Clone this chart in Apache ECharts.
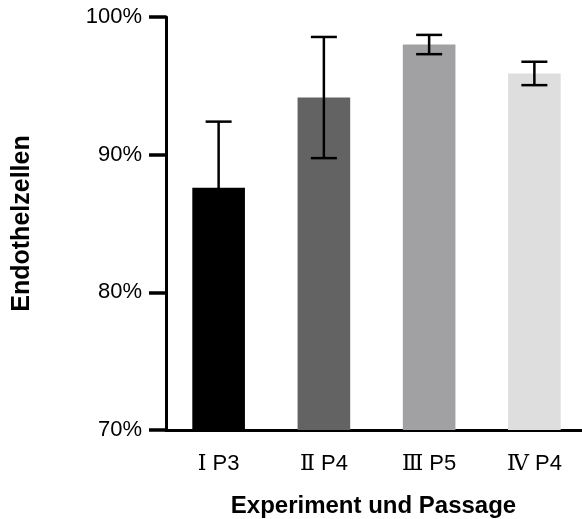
<!DOCTYPE html>
<html><head><meta charset="utf-8">
<script src="https://cdn.jsdelivr.net/npm/echarts@6/dist/echarts.min.js"></script>
<style>html,body{margin:0;padding:0;background:#fff}#c{width:582px;height:519px}</style>
</head><body><div id="c"></div>
<script>
const romans = ['Ⅰ', 'Ⅱ', 'Ⅲ', 'Ⅳ'];
const passages = ['P3', 'P4', 'P5', 'P4'];
const categories = ['Ⅰ P3', 'Ⅱ P4', 'Ⅲ P5', 'Ⅳ P4'];
const means = [87.6, 94.15, 98.0, 95.9];
const errors = [4.8, 4.4, 0.7, 0.85];
const barColors = ['#000000', '#636363', '#a1a1a4', '#dedede'];
const yTicks = [70, 80, 90, 100];

const chart = echarts.init(document.getElementById('c'));
const font = '"Liberation Sans", Arial, sans-serif';
chart.setOption({
  animation: false,
  grid: { left: 166, top: 17, width: 421, height: 413, containLabel: false, outerBoundsMode: 'none' },
  xAxis: {
    type: 'category',
    data: categories,
    name: 'Experiment und Passage',
    nameLocation: 'middle',
    nameGap: 64,
    nameTextStyle: { fontFamily: font, fontWeight: 'bold', fontSize: 24, color: '#000', padding: [0, 0, 0, -6] },
    axisLine: { lineStyle: { color: '#000', width: 3 } },
    axisTick: { alignWithLabel: true, length: 16, lineStyle: { color: '#000', width: 3.5 } },
    axisLabel: {
      margin: 23,
      formatter: function (v, i) { return '{r|' + romans[i] + '}{p| ' + passages[i] + '}'; },
      rich: {
        r: { fontFamily: '"DejaVu Serif", "Liberation Serif", serif', fontSize: 22, color: '#000' },
        p: { fontFamily: font, fontSize: 22, color: '#000' }
      }
    }
  },
  yAxis: {
    type: 'value',
    min: 70, max: 100, interval: 10,
    name: 'Endothelzellen',
    nameLocation: 'middle',
    nameGap: 131,
    nameTextStyle: { fontFamily: font, fontWeight: 'bold', fontSize: 25, color: '#000' },
    axisLine: { show: true, lineStyle: { color: '#000', width: 3 } },
    axisTick: { show: true, length: 17, lineStyle: { color: '#000', width: 3.5 } },
    axisLabel: { margin: 24, fontFamily: font, fontSize: 22, color: '#000', formatter: function (v) { return yTicks.indexOf(v) >= 0 ? v + '%' : ''; } },
    splitLine: { show: false }
  },
  series: [
    {
      type: 'bar',
      data: means.map((v, i) => ({ value: v, itemStyle: { color: barColors[i] } })),
      barWidth: '50%',
      z: 2
    },
    {
      type: 'custom',
      z: 3,
      data: means.map((v, i) => [i, v - errors[i], v + errors[i]]),
      renderItem: function (params, api) {
        const x = api.coord([api.value(0), 0])[0];
        const lo = api.coord([api.value(0), api.value(1)])[1];
        const hi = api.coord([api.value(0), api.value(2)])[1];
        const hw = 13;
        const style = { stroke: '#000', lineWidth: 2.5 };
        return {
          type: 'group',
          children: [
            { type: 'line', shape: { x1: x, y1: lo, x2: x, y2: hi }, style: style },
            { type: 'line', shape: { x1: x - hw, y1: hi, x2: x + hw, y2: hi }, style: style },
            { type: 'line', shape: { x1: x - hw, y1: lo, x2: x + hw, y2: lo }, style: style }
          ]
        };
      }
    }
  ]
});
</script></body></html>
